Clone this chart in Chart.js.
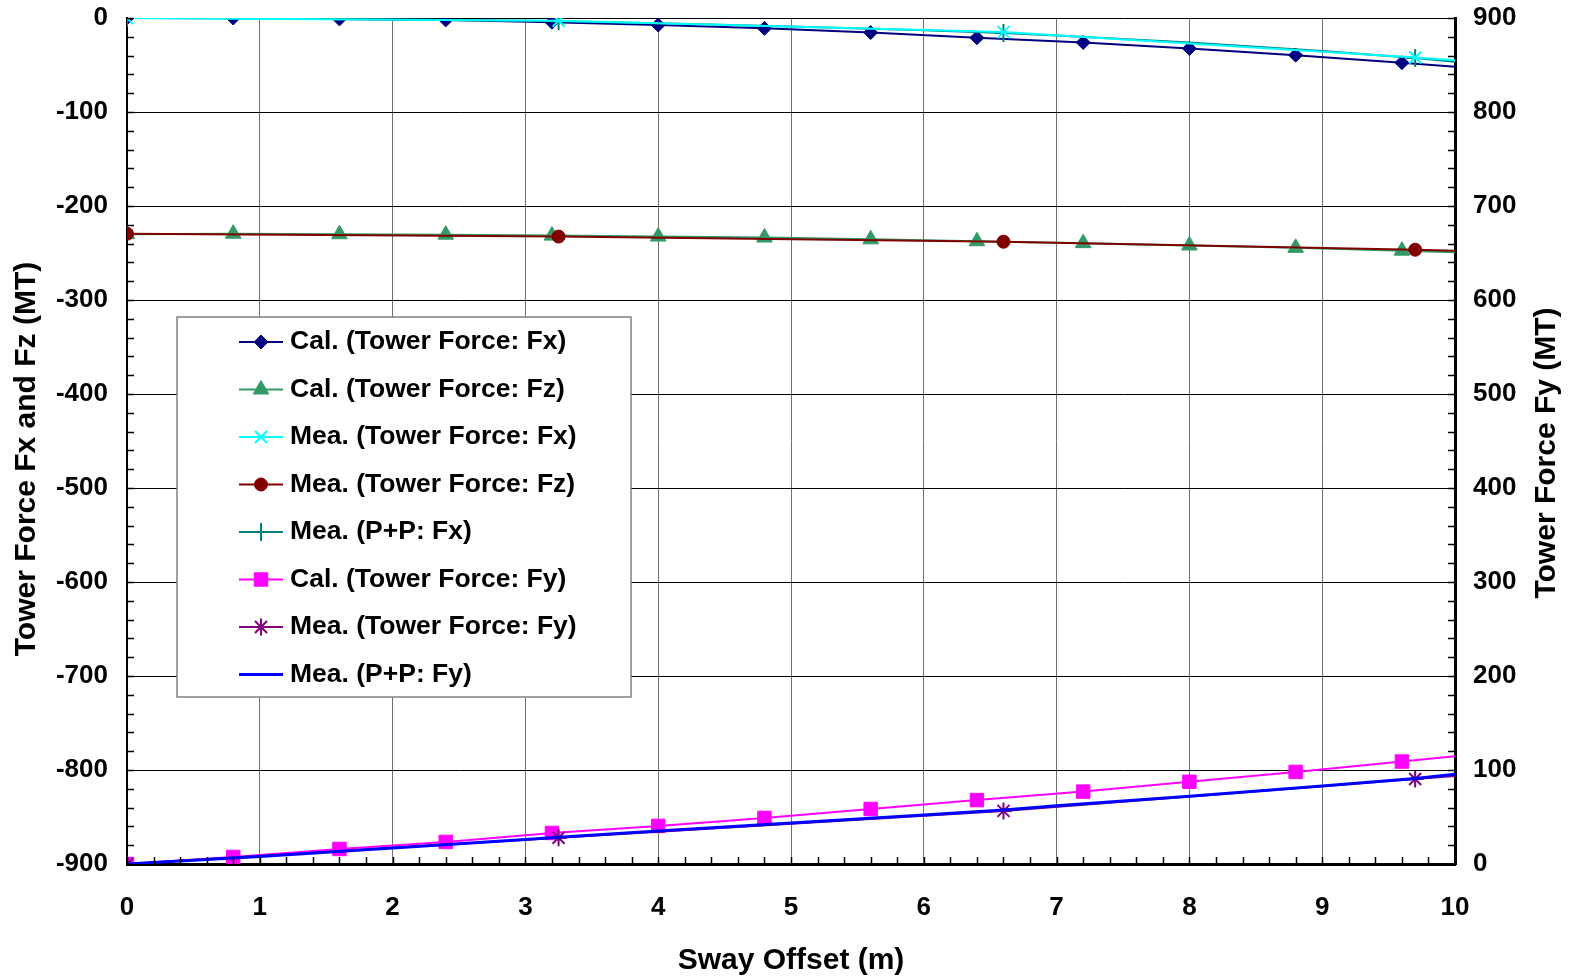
<!DOCTYPE html>
<html>
<head>
<meta charset="utf-8">
<script src="https://cdn.jsdelivr.net/npm/chart.js"></script>
<style>
  body { margin: 0; background: #fff; }
  canvas { display: block; }
</style>
</head>
<body>
<canvas id="myChart" width="1574" height="979"></canvas>
<script>
// calculated values, every 0.8 m of sway offset
const calX = [0, 0.8, 1.6, 2.4, 3.2, 4.0, 4.8, 5.6, 6.4, 7.2, 8.0, 8.8, 9.6, 10.4];
const calFx = [0, 0, -1, -2, -4.5, -7.5, -11, -15.5, -21, -26, -32.5, -39.5, -47.5, -56];
const calFz = [-230, -229.5, -230, -230.5, -231.5, -232.5, -233.5, -235.5, -237.5, -239.5, -242, -244.5, -247.5, -251];
const calFy = [0, 7.5, 16, 23.5, 33, 40.5, 49, 58.5, 68, 77, 87.5, 98, 109, 120];

// measured tower force
const meaX = [0, 3.25, 6.6, 9.7, 10.4];
const meaFx = [0, -3, -15, -42, -49];
const meaFz = [-229.5, -232.5, -238, -246.5, -249];
const meaFy = [0, 28, 56.5, 90.5, 98];

// measured P+P traces
const ppX = [0, 1, 2, 3, 3.25, 4, 5, 6, 6.6, 7, 8, 9, 9.7, 10, 10.4];
const ppFx = [0, -0.5, -1.5, -3, -3.5, -5.5, -9, -13, -16, -18.5, -26, -35, -42.5, -46.5, -52];
const ppFy = [0, 8, 17, 26, 28.5, 35, 43.5, 52, 57.5, 62, 72, 83, 91, 95.5, 101];

const xTicks = [0, 1, 2, 3, 4, 5, 6, 7, 8, 9, 10];
const leftTicks = [0, -100, -200, -300, -400, -500, -600, -700, -800, -900];
const rightTicks = [0, 100, 200, 300, 400, 500, 600, 700, 800, 900];

const FONT = "'Liberation Sans', Arial, sans-serif";

function pts(xs, ys) {
  return xs.map((x, i) => ({ x: x, y: ys[i] }));
}
// markers of the P+P traces only where the tower force was measured
function atMea(r) {
  return (c) => (meaX.indexOf(ppX[c.dataIndex]) >= 0 ? r : 0);
}

function series(label, data, color, style, radius, axis, width) {
  return {
    label: label,
    data: data,
    yAxisID: axis,
    borderColor: color,
    backgroundColor: color,
    borderWidth: width || 2,
    pointStyle: style,
    pointRadius: radius,
    pointBackgroundColor: color,
    pointBorderColor: color,
    pointBorderWidth: (style == "cross" || style == "crossRot" || style == "star" || style == "line") ? 2 : 1,
    legendRadius: typeof radius == "number" ? radius : 7,
    tension: 0
  };
}

const datasets = [
  series("Cal. (Tower Force: Fx)", pts(calX, calFx), "#000080", "rectRot", 7, "y"),
  series("Cal. (Tower Force: Fz)", pts(calX, calFz), "#339966", "triangle", 9, "y"),
  series("Mea. (Tower Force: Fx)", pts(meaX, meaFx), "#00FFFF", "crossRot", 8.5, "y"),
  series("Mea. (Tower Force: Fz)", pts(meaX, meaFz), "#800000", "circle", 6.5, "y"),
  series("Mea. (P+P: Fx)", pts(ppX, ppFx), "#008080", "cross", atMea(9), "y"),
  series("Cal. (Tower Force: Fy)", pts(calX, calFy), "#FF00FF", "rect", 9.5, "y2"),
  series("Mea. (Tower Force: Fy)", pts(meaX, meaFy), "#800080", "star", 8.5, "y2"),
  series("Mea. (P+P: Fy)", pts(ppX, ppFy), "#0000FF", "line", atMea(4), "y2", 3)
];
datasets[4].legendRadius = 9;
datasets[7].legendRadius = 4;
// draw order: measured Fz over calculated Fz, P+P Fy over measured Fy
datasets.forEach((d, i) => { d.order = [5, 6, 2, 1, 4, 7, 3, 0][i]; });

// small inward ticks every 20 MT and every 0.2 m
const minorTicks = {
  id: "minorTicks",
  afterDatasetsDraw(chart) {
    const ctx = chart.ctx;
    const a = chart.chartArea;
    const sx = chart.scales.x, sy = chart.scales.y, sy2 = chart.scales.y2;
    ctx.save();
    ctx.strokeStyle = "#000";
    ctx.lineWidth = 1.5;
    ctx.beginPath();
    for (let v = -900; v <= 0; v += 20) {
      const p = Math.round(sy.getPixelForValue(v)) + 0.5;
      ctx.moveTo(a.left, p); ctx.lineTo(a.left + 7, p);
    }
    for (let v = 0; v <= 900; v += 20) {
      const p = Math.round(sy2.getPixelForValue(v)) + 0.5;
      ctx.moveTo(a.right - 7, p); ctx.lineTo(a.right, p);
    }
    for (let k = 0; k <= 50; k++) {
      const p = Math.round(sx.getPixelForValue(k * 0.2)) + 0.5;
      ctx.moveTo(p, a.bottom - 7); ctx.lineTo(p, a.bottom);
    }
    ctx.stroke();
    ctx.restore();
  }
};

// both vertical titles read bottom to top
const yTitles = {
  id: "yTitles",
  afterDraw(chart) {
    const ctx = chart.ctx;
    ctx.save();
    ctx.font = "bold 30px " + FONT;
    ctx.fillStyle = "#000";
    ctx.textAlign = "center";
    ctx.textBaseline = "middle";
    [["Tower Force Fx and Fz (MT)", 27, 459], ["Tower Force Fy (MT)", 1547, 453]].forEach((t) => {
      ctx.save();
      ctx.translate(t[1], t[2]);
      ctx.rotate(-Math.PI / 2);
      ctx.fillText(t[0], 0, 0);
      ctx.restore();
    });
    ctx.restore();
  }
};

// boxed legend inside the plot, line sample with marker
const boxLegend = {
  id: "boxLegend",
  afterDraw(chart) {
    const ctx = chart.ctx;
    const bx = 177, by = 317, bw = 454, bh = 380;
    ctx.save();
    ctx.fillStyle = "#fff";
    ctx.fillRect(bx, by, bw, bh);
    ctx.strokeStyle = "#808080";
    ctx.lineWidth = 1.5;
    ctx.strokeRect(bx, by, bw, bh);
    ctx.font = "bold 26.5px " + FONT;
    ctx.textBaseline = "middle";
    chart.data.datasets.forEach((d, i) => {
      const y = by + 25 + i * 47.5;
      ctx.strokeStyle = d.borderColor;
      ctx.lineWidth = d.borderWidth;
      ctx.beginPath();
      ctx.moveTo(bx + 62, y); ctx.lineTo(bx + 106, y);
      ctx.stroke();
      ctx.fillStyle = d.borderColor;
      ctx.lineWidth = d.pointBorderWidth;
      Chart.helpers.drawPoint(ctx, {
        pointStyle: d.pointStyle, rotation: 0,
        radius: d.legendRadius, borderWidth: d.pointBorderWidth
      }, bx + 84, y);
      ctx.fillStyle = "#000";
      ctx.fillText(d.label, bx + 113, y);
    });
    ctx.restore();
  }
};

const tickFont = { family: FONT, size: 26, weight: "bold" };
const titleFont = { family: FONT, size: 30, weight: "bold", lineHeight: 1.2 };

// fixed box sizes so the plot area sits where the original has it
function sideFit(w) {
  return (s) => { s.width = w; s.paddingTop = 18; s.paddingBottom = 0; };
}

const config = {
  type: "line",
  data: { datasets: datasets },
  options: {
    responsive: false,
    animation: false,
    events: [],
    layout: { padding: 0 },
    plugins: { legend: { display: false }, tooltip: { enabled: false } },
    scales: {
      x: {
        type: "linear",
        min: 0, max: 10,
        afterBuildTicks: (s) => { s.ticks = xTicks.map((v) => ({ value: v })); },
        afterFit: (s) => { s.height = 115; },
        ticks: { font: tickFont, color: "#000", padding: 28, maxRotation: 0 },
        grid: { color: "#707070", lineWidth: 1, drawTicks: false },
        border: { color: "#000", width: 3 },
        title: { display: true, text: "Sway Offset (m)", font: titleFont, color: "#000", padding: 0 }
      },
      y: {
        type: "linear",
        position: "left",
        min: -900, max: 0,
        afterBuildTicks: (s) => { s.ticks = leftTicks.map((v) => ({ value: v })); },
        afterFit: sideFit(127),
        ticks: { font: tickFont, color: "#000", padding: 19 },
        grid: { color: "#000", lineWidth: 1, drawTicks: false },
        border: { color: "#000", width: 2 }
      },
      y2: {
        type: "linear",
        position: "right",
        min: 0, max: 900,
        afterBuildTicks: (s) => { s.ticks = rightTicks.map((v) => ({ value: v })); },
        afterFit: sideFit(119),
        ticks: { font: tickFont, color: "#000", padding: 18 },
        grid: { drawOnChartArea: false, drawTicks: false },
        border: { color: "#000", width: 3 }
      }
    }
  },
  plugins: [minorTicks, yTitles, boxLegend]
};

const myChart = document.getElementById("myChart");
myChart.style.backgroundColor = "white";
new Chart(myChart, config);
</script>
</body>
</html>
